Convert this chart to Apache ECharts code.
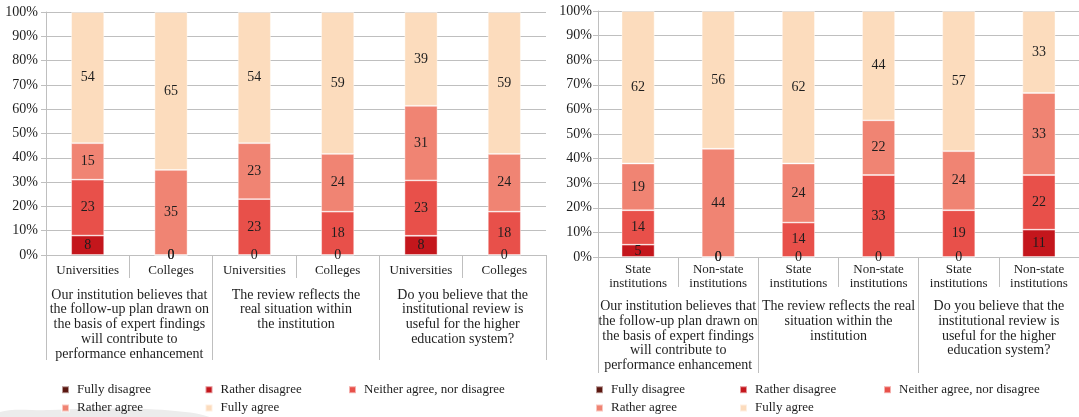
<!DOCTYPE html>
<html><head><meta charset="utf-8">
<script src="https://cdn.jsdelivr.net/npm/echarts@6/dist/echarts.min.js"></script>
<style>html,body{margin:0;padding:0;background:#fff}#c{width:1079px;height:417px}</style>
</head><body><div id="c"></div>
<script>
const seriesNames = ['Fully disagree', 'Rather disagree', 'Neither agree, nor disagree', 'Rather agree', 'Fully agree'];
const seriesColors = ['#5b1710', '#c4161c', '#e8504a', '#f08473', '#fcdcbd'];

const leftCategories = ['Universities', 'Colleges', 'Universities', 'Colleges', 'Universities', 'Colleges'];
const leftGroups = [
  'Our institution believes that\nthe follow-up plan drawn on\nthe basis of expert findings\nwill contribute to\nperformance enhancement',
  'The review reflects the\nreal situation within\nthe institution',
  'Do you believe that the\ninstitutional review is\nuseful for the higher\neducation system?'
];
const rightCategories = ['State\ninstitutions', 'Non-state\ninstitutions', 'State\ninstitutions', 'Non-state\ninstitutions', 'State\ninstitutions', 'Non-state\ninstitutions'];
const rightGroups = [
  'Our institution believes that\nthe follow-up plan drawn on\nthe basis of expert findings\nwill contribute to\nperformance enhancement',
  'The review reflects the real\nsituation within the\ninstitution',
  'Do you believe that the\ninstitutional review is\nuseful for the higher\neducation system?'
];

const leftFullyDisagree  = [null, null, null, null, null, null];
const leftRatherDisagree = [8, 0, 0, 0, 8, 0];
const leftNeither        = [23, 0, 23, 18, 23, 18];
const leftRatherAgree    = [15, 35, 23, 24, 31, 24];
const leftFullyAgree     = [54, 65, 54, 59, 39, 59];

const rightFullyDisagree  = [null, null, null, null, null, null];
const rightRatherDisagree = [5, 0, 0, 0, 0, 11];
const rightNeither        = [14, 0, 14, 33, 19, 22];
const rightRatherAgree    = [19, 44, 24, 22, 24, 33];
const rightFullyAgree     = [62, 56, 62, 44, 57, 33];

const yTickLabels = ['0%', '10%', '20%', '30%', '40%', '50%', '60%', '70%', '80%', '90%', '100%'];

const FONT = 'Liberation Serif';
const GRAY = '#bfbfbf';
const TXT = '#1e1e1e';

function normalize(seriesList) {
  const n = seriesList[0].length;
  const sums = [];
  for (let i = 0; i < n; i++) {
    let s = 0;
    seriesList.forEach(a => { if (a[i] != null) s += a[i]; });
    sums.push(s);
  }
  return seriesList.map(a => a.map((v, i) => v == null ? null : { value: v / sums[i] * 100, raw: v }));
}

const leftData = normalize([leftFullyDisagree, leftRatherDisagree, leftNeither, leftRatherAgree, leftFullyAgree]);
const rightData = normalize([rightFullyDisagree, rightRatherDisagree, rightNeither, rightRatherAgree, rightFullyAgree]);

function makeSeries(dataList, axisIdx, stack) {
  return dataList.map((d, k) => ({
    name: seriesNames[k],
    type: 'bar',
    stack: stack,
    xAxisIndex: axisIdx * 2,
    yAxisIndex: axisIdx,
    barWidth: 33,
    data: d,
    itemStyle: { color: seriesColors[k], borderColor: 'rgba(255,255,255,0.55)', borderWidth: 0.8 },
    label: {
      show: true, position: 'inside', color: TXT, fontSize: 14, fontFamily: FONT,
      formatter: p => (p.data && p.data.raw != null) ? String(p.data.raw) : ''
    },
    emphasis: { disabled: true }
  }));
}

function yAxis(gridIndex, margin) {
  return {
    type: 'value', gridIndex, min: 0, max: 100, interval: 10,
    axisLine: { show: true, lineStyle: { color: GRAY, width: 1 } },
    axisTick: { show: true, length: 5, lineStyle: { color: GRAY } },
    splitLine: { show: true, lineStyle: { color: GRAY, width: 1 } },
    axisLabel: { color: TXT, fontSize: 14, fontFamily: FONT, margin,
      formatter: v => yTickLabels[Math.round(v / 10)] }
  };
}

function xAxes(gridIndex, cats, groups, o) {
  return [
    {
      type: 'category', gridIndex, data: cats, position: 'bottom',
      axisLine: { show: true, lineStyle: { color: GRAY, width: 1 } },
      axisTick: { show: true, length: o.t1, interval: 0, lineStyle: { color: GRAY } },
      axisLabel: { interval: 0, color: TXT, fontSize: 13, fontFamily: FONT, margin: o.m1, lineHeight: o.lh1 }
    },
    {
      type: 'category', gridIndex, data: groups, position: 'bottom',
      axisLine: { show: false },
      axisTick: { show: true, length: o.t2, interval: 0, lineStyle: { color: GRAY } },
      axisLabel: { interval: 0, color: TXT, fontSize: 14, fontFamily: FONT, margin: o.m2, lineHeight: o.lh2, align: 'center' }
    }
  ];
}

function legendCol(left, top, names) {
  return {
    orient: 'vertical', left, top, padding: 0, itemGap: 4.3,
    itemWidth: 7, itemHeight: 7, icon: 'rect',
    selectedMode: false,
    data: names,
    textStyle: { color: TXT, fontSize: 13, fontFamily: FONT, lineHeight: 14, padding: [0, 0, 0, 3] }
  };
}

const legendTop = 382.7;
const option = {
  animation: false,
  backgroundColor: '#fff',
  grid: [
    { left: 46, top: 12, width: 500, height: 243 },
    { left: 598, top: 11, width: 482, height: 246 }
  ],
  xAxis: [
    ...xAxes(0, leftCategories, leftGroups, { t1: 23, m1: 8, lh1: 15, t2: 105, m2: 32.5, lh2: 14.8 }),
    ...xAxes(1, rightCategories, rightGroups, { t1: 30, m1: 5, lh1: 14.3, t2: 116, m2: 42.5, lh2: 14.6 })
  ],
  yAxis: [yAxis(0, 8), yAxis(1, 6)],
  legend: [
    legendCol(61, legendTop, [seriesNames[0], seriesNames[3]]),
    legendCol(204.5, legendTop, [seriesNames[1], seriesNames[4]]),
    legendCol(348, legendTop, [seriesNames[2]]),
    legendCol(595, legendTop, [seriesNames[0], seriesNames[3]]),
    legendCol(739, legendTop, [seriesNames[1], seriesNames[4]]),
    legendCol(883, legendTop, [seriesNames[2]])
  ],
  graphic: [{
    type: 'polygon', z: -10, silent: true,
    shape: { points: [[-5, 414], [50, 410], [110, 408.5], [170, 410.5], [212, 418], [240, 440], [-5, 440]], smooth: 0.35 },
    style: { fill: '#ececec' }
  }],
  series: [
    ...makeSeries(leftData, 0, 'left'),
    ...makeSeries(rightData, 1, 'right')
  ]
};

const chart = echarts.init(document.getElementById('c'), null, { renderer: 'canvas' });
chart.setOption(option);
</script>
</body></html>
